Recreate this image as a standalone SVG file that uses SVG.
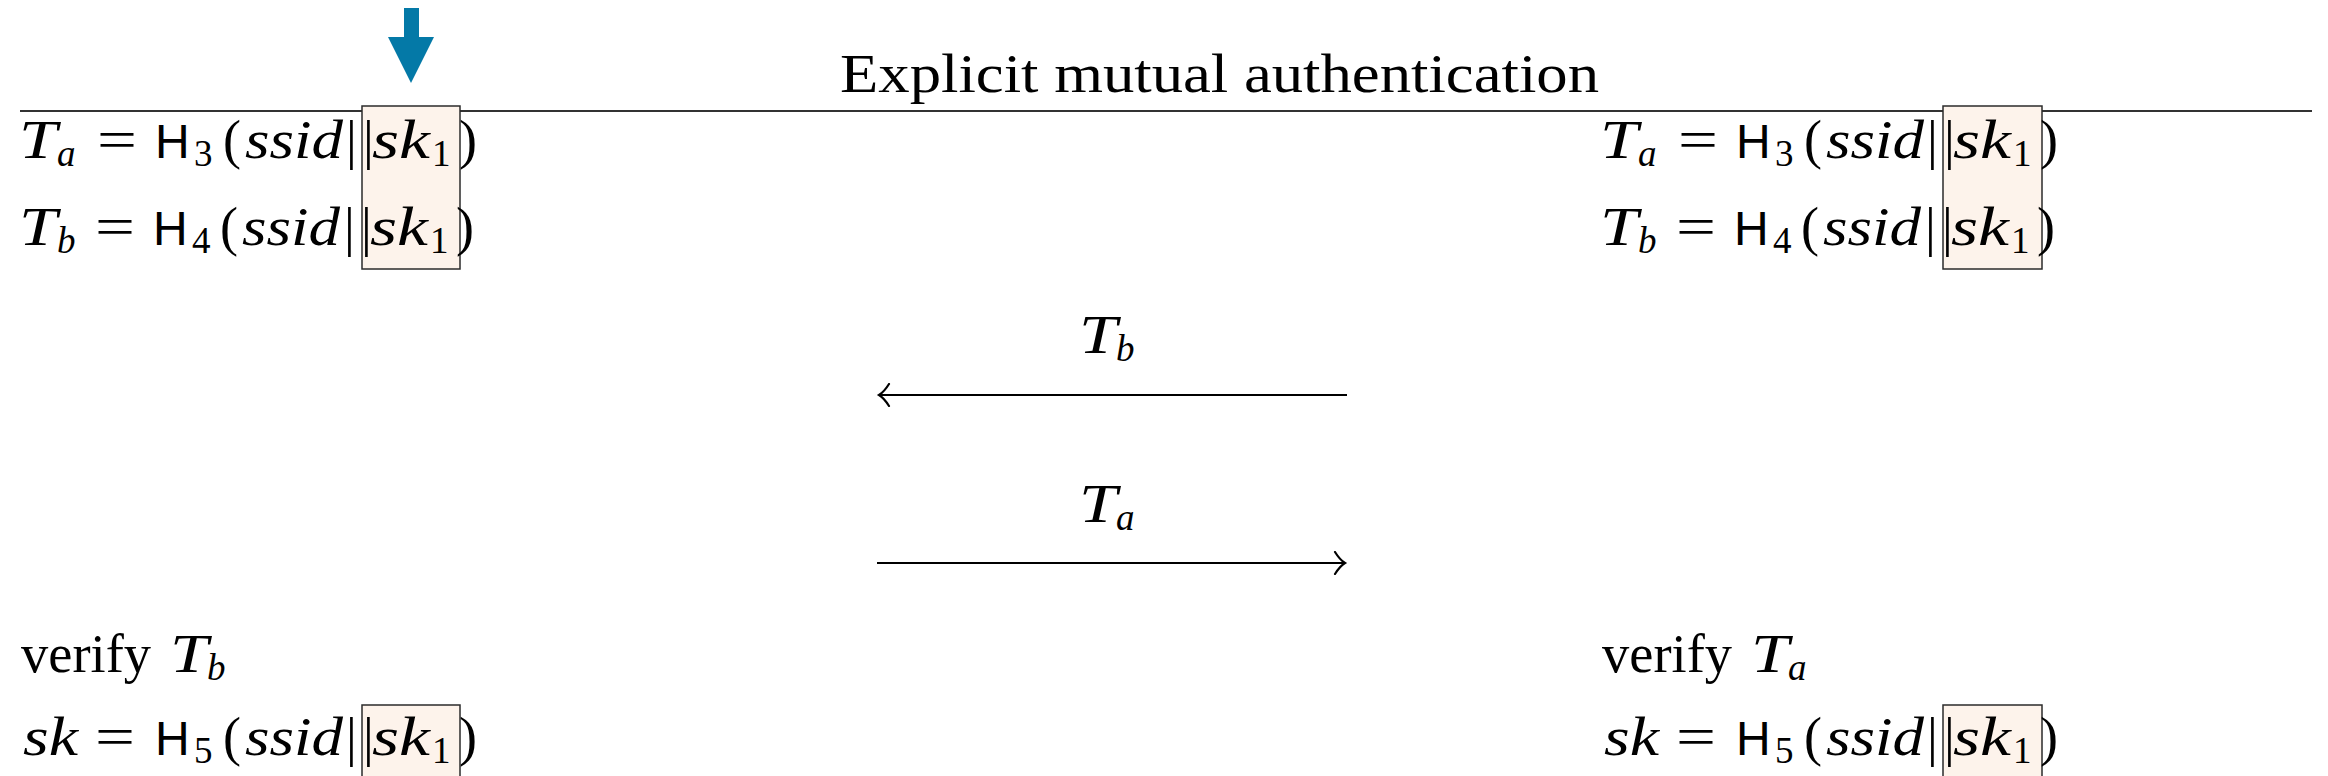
<svg xmlns="http://www.w3.org/2000/svg" width="2328" height="776" viewBox="0 0 2328 776">
<style>
.t{font-family:"Liberation Serif",serif;font-size:54px;fill:#000}
.i{font-style:italic}
.sf{font-family:"Liberation Sans",sans-serif;font-size:48px;fill:#000}
.sub{font-family:"Liberation Serif",serif;font-size:37px;fill:#000}
.hl{fill:#fdf3eb;stroke:#2b2b2b;stroke-width:1.5}
.rule{stroke:#333;stroke-width:2.2}
.conn{stroke:#000;stroke-width:2;fill:none}
</style>
<defs>
<marker id="ah" markerUnits="userSpaceOnUse" markerWidth="20" markerHeight="24" viewBox="-14 -12 16 24" refX="0" refY="0" orient="auto-start-reverse">
<path d="M-10,-11 Q-5,-3 0,0 Q-5,3 -10,11" fill="none" stroke="#000" stroke-width="2.2" stroke-linecap="round"/>
</marker>
</defs>
<rect width="2328" height="776" fill="#fff"/>

<g id="pointer">
<polygon points="404,8 419,8 419,37 434,37 411,83 388,37 404,37" fill="#0479a7"/>
</g>

<g id="title">
<text class="t" x="840" y="92" textLength="759" lengthAdjust="spacingAndGlyphs">Explicit mutual authentication</text>
<line class="rule" x1="20" y1="111" x2="2312" y2="111"/>
</g>

<g id="highlights">
<rect class="hl" x="362" y="106" width="98" height="163"/>
<rect class="hl" x="1943" y="106" width="99" height="163"/>
<rect class="hl" x="362" y="705" width="98" height="80"/>
<rect class="hl" x="1943" y="705" width="99" height="80"/>
</g>

<g id="party-a">
<text class="t i" x="19" y="158" textLength="38" lengthAdjust="spacingAndGlyphs">T</text><text class="sub i" x="57" y="166">a</text>
<text class="t" x="97" y="158" textLength="40" lengthAdjust="spacingAndGlyphs">=</text>
<text class="sf" x="155" y="158">H</text><text class="sub" x="194" y="166">3</text>
<text class="t" x="223" y="158">(</text>
<text class="t i" x="245" y="158" textLength="98" lengthAdjust="spacingAndGlyphs">ssid</text>
<text class="t" x="346" y="158">|</text><text class="t" x="363" y="158">|</text>
<text class="t i" x="372" y="158" textLength="58" lengthAdjust="spacingAndGlyphs">sk</text>
<text class="sub" x="432" y="166">1</text>
<text class="t" x="459" y="158">)</text>

<text class="t i" x="19" y="245" textLength="38" lengthAdjust="spacingAndGlyphs">T</text><text class="sub i" x="57" y="253">b</text>
<text class="t" x="95" y="245" textLength="40" lengthAdjust="spacingAndGlyphs">=</text>
<text class="sf" x="153" y="245">H</text><text class="sub" x="192" y="253">4</text>
<text class="t" x="220" y="245">(</text>
<text class="t i" x="242" y="245" textLength="98" lengthAdjust="spacingAndGlyphs">ssid</text>
<text class="t" x="344" y="245">|</text><text class="t" x="361" y="245">|</text>
<text class="t i" x="370" y="245" textLength="58" lengthAdjust="spacingAndGlyphs">sk</text>
<text class="sub" x="430" y="253">1</text>
<text class="t" x="456" y="245">)</text>

<text class="t" x="21" y="672" textLength="130" lengthAdjust="spacingAndGlyphs">verify</text>
<text class="t i" x="170" y="672" textLength="38" lengthAdjust="spacingAndGlyphs">T</text><text class="sub i" x="207" y="680">b</text>

<text class="t i" x="23" y="755" textLength="55" lengthAdjust="spacingAndGlyphs">sk</text>
<text class="t" x="95" y="755" textLength="40" lengthAdjust="spacingAndGlyphs">=</text>
<text class="sf" x="155" y="755">H</text><text class="sub" x="194" y="763">5</text>
<text class="t" x="223" y="755">(</text>
<text class="t i" x="245" y="755" textLength="98" lengthAdjust="spacingAndGlyphs">ssid</text>
<text class="t" x="346" y="755">|</text><text class="t" x="363" y="755">|</text>
<text class="t i" x="372" y="755" textLength="58" lengthAdjust="spacingAndGlyphs">sk</text>
<text class="sub" x="432" y="763">1</text>
<text class="t" x="459" y="755">)</text>
</g>

<g id="party-b" transform="translate(1581,0)">
<text class="t i" x="19" y="158" textLength="38" lengthAdjust="spacingAndGlyphs">T</text><text class="sub i" x="57" y="166">a</text>
<text class="t" x="97" y="158" textLength="40" lengthAdjust="spacingAndGlyphs">=</text>
<text class="sf" x="155" y="158">H</text><text class="sub" x="194" y="166">3</text>
<text class="t" x="223" y="158">(</text>
<text class="t i" x="245" y="158" textLength="98" lengthAdjust="spacingAndGlyphs">ssid</text>
<text class="t" x="346" y="158">|</text><text class="t" x="363" y="158">|</text>
<text class="t i" x="372" y="158" textLength="58" lengthAdjust="spacingAndGlyphs">sk</text>
<text class="sub" x="432" y="166">1</text>
<text class="t" x="459" y="158">)</text>

<text class="t i" x="19" y="245" textLength="38" lengthAdjust="spacingAndGlyphs">T</text><text class="sub i" x="57" y="253">b</text>
<text class="t" x="95" y="245" textLength="40" lengthAdjust="spacingAndGlyphs">=</text>
<text class="sf" x="153" y="245">H</text><text class="sub" x="192" y="253">4</text>
<text class="t" x="220" y="245">(</text>
<text class="t i" x="242" y="245" textLength="98" lengthAdjust="spacingAndGlyphs">ssid</text>
<text class="t" x="344" y="245">|</text><text class="t" x="361" y="245">|</text>
<text class="t i" x="370" y="245" textLength="58" lengthAdjust="spacingAndGlyphs">sk</text>
<text class="sub" x="430" y="253">1</text>
<text class="t" x="456" y="245">)</text>

<text class="t" x="21" y="672" textLength="130" lengthAdjust="spacingAndGlyphs">verify</text>
<text class="t i" x="170" y="672" textLength="38" lengthAdjust="spacingAndGlyphs">T</text><text class="sub i" x="207" y="680">a</text>

<text class="t i" x="23" y="755" textLength="55" lengthAdjust="spacingAndGlyphs">sk</text>
<text class="t" x="95" y="755" textLength="40" lengthAdjust="spacingAndGlyphs">=</text>
<text class="sf" x="155" y="755">H</text><text class="sub" x="194" y="763">5</text>
<text class="t" x="223" y="755">(</text>
<text class="t i" x="245" y="755" textLength="98" lengthAdjust="spacingAndGlyphs">ssid</text>
<text class="t" x="346" y="755">|</text><text class="t" x="363" y="755">|</text>
<text class="t i" x="372" y="755" textLength="58" lengthAdjust="spacingAndGlyphs">sk</text>
<text class="sub" x="432" y="763">1</text>
<text class="t" x="459" y="755">)</text>
</g>

<g id="connectors">
<line class="conn" x1="1347" y1="395" x2="879" y2="395" marker-end="url(#ah)"/>
<line class="conn" x1="877" y1="563" x2="1345" y2="563" marker-end="url(#ah)"/>
</g>

<g id="msg-labels">
<text class="t i" x="1079" y="353" textLength="38" lengthAdjust="spacingAndGlyphs">T</text><text class="sub i" x="1116" y="361">b</text>
<text class="t i" x="1079" y="522" textLength="38" lengthAdjust="spacingAndGlyphs">T</text><text class="sub i" x="1116" y="530">a</text>
</g>
</svg>
